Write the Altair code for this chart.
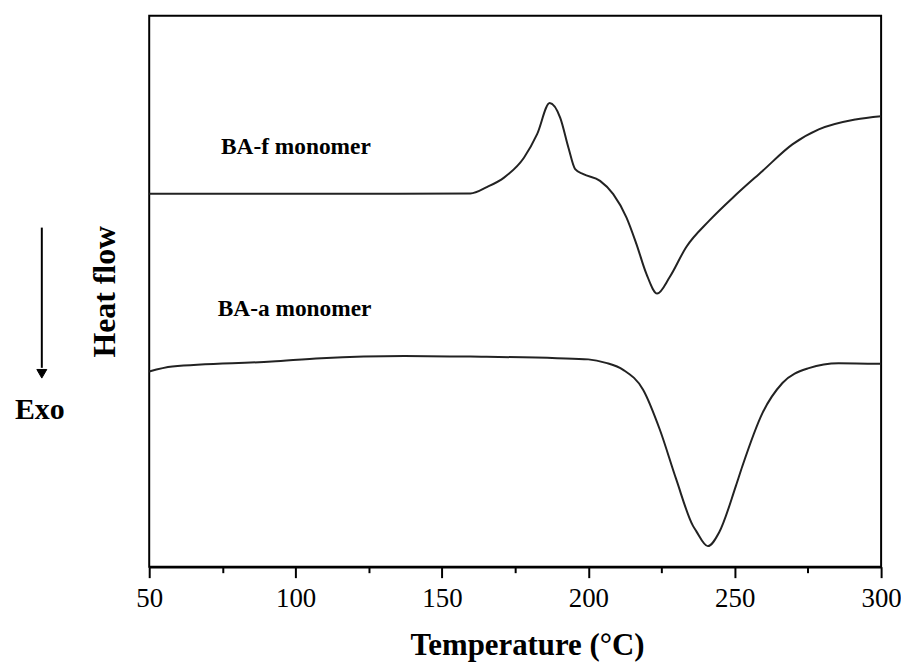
import altair as alt
import pandas as pd

# BA-f monomer DSC trace (temperature °C, heat flow a.u.)
baf_temp = [50.0, 101.0, 134.9, 159.7, 165.5, 171.2, 178.0, 182.5, 186.8, 190.4, 193.2,
            195.5, 198.3, 204.0, 208.5, 213.0, 216.4, 219.8, 223.5, 227.8, 233.4, 241.3,
            250.4, 259.5, 269.7, 278.7, 291.2, 300.0]
baf_flow = [375, 375, 375, 375.3, 382, 391.3, 411.3, 435, 466.3, 451.3, 421.3,
            399.7, 394.7, 388, 374.7, 351.3, 324.7, 294.7, 274.7, 291.3, 321.3, 348,
            374, 398, 424.7, 439.7, 449.7, 453]

# BA-a monomer DSC trace
baa_temp = [50.0, 57.9, 91.9, 108.8, 137.2, 159.7, 189.3, 200.0, 206.0, 211.9, 218.7, 224.4,
            230.0, 235.7, 236.8, 240.8, 244.7, 250.4, 252.6, 259.5, 266.3, 275.3, 285.5, 300.0]
baa_flow = [196.3, 201.3, 206.3, 209.7, 212, 211.3, 209.7, 208.5, 205, 198, 178, 138,
            88, 41.3, 36, 20.7, 34.7, 81.3, 101, 154.7, 184.7, 199.7, 204.7, 204]

label_text = ["BA-f monomer", "BA-a monomer"]
label_temp = [74.5, 73.4]
label_flow = [415, 252]

x_ticks = [50, 75, 100, 125, 150, 175, 200, 225, 250, 275, 300]

FONT = "Liberation Serif"

df = pd.concat([
    pd.DataFrame({"T": baf_temp, "H": baf_flow, "s": "BA-f"}),
    pd.DataFrame({"T": baa_temp, "H": baa_flow, "s": "BA-a"}),
])
labels = pd.DataFrame({"T": label_temp, "H": label_flow, "t": label_text})
one = pd.DataFrame({"a": [0]})

xscale = alt.Scale(domain=[50, 300], nice=False, zero=False)
yscale = alt.Scale(domain=[0, 554], nice=False, zero=False)

xaxis = alt.Axis(
    values=x_ticks,
    labelExpr="datum.value % 50 === 0 ? datum.label : ''",
    tickSize={"condition": {"test": "datum.value % 50 === 0", "value": 11}, "value": 6},
    tickWidth=2, tickColor="black", domainColor="black", domainWidth=2.5,
    labelFont=FONT, labelFontSize=27, labelColor="black", labelPadding=8,
    labelFlush=False, labelOverlap=False, grid=False,
    title="Temperature (°C)", titleFont=FONT, titleFontSize=31, titleFontWeight="bold",
    titleColor="black", titleX=380, titleY=88, titleBaseline="alphabetic", titleAlign="center",
)
yaxis = alt.Axis(
    labels=False, ticks=False, domain=False, grid=False,
    title="Heat flow", titleFont=FONT, titleFontSize=32, titleFontWeight="bold",
    titleColor="black", titleAngle=-90, titleX=-35, titleY=277,
    titleBaseline="alphabetic", titleAlign="center",
)

lines = alt.Chart(df).mark_line(interpolate="monotone", color="#222", strokeWidth=2).encode(
    x=alt.X("T:Q", scale=xscale, axis=xaxis),
    y=alt.Y("H:Q", scale=yscale, axis=yaxis),
    detail="s:N",
)

texts = alt.Chart(labels).mark_text(
    align="left", baseline="alphabetic", font=FONT, fontSize=23.5, fontWeight="bold", color="black"
).encode(x=alt.X("T:Q", scale=xscale), y=alt.Y("H:Q", scale=yscale), text="t:N")

arrow_line = alt.Chart(one).mark_rule(color="black", strokeWidth=2).encode(
    x=alt.value(-108), y=alt.value(213), y2=alt.value(354)
)
arrow_head = alt.Chart(one).mark_point(
    shape="triangle-down", filled=True, fill="black", stroke="black", strokeWidth=1,
    size=100, opacity=1
).encode(x=alt.value(-108), y=alt.value(360))

exo = alt.Chart(one).mark_text(
    text="Exo", align="center", baseline="alphabetic", font=FONT, fontSize=30,
    fontWeight="bold", color="black"
).encode(x=alt.value(-110), y=alt.value(405))

chart = alt.layer(lines, texts, arrow_line, arrow_head, exo).properties(
    width=736, height=554,
    padding={"left": 142, "top": 6, "right": 20, "bottom": 96},
    autosize=alt.AutoSizeParams(type="none"),
    background="white",
).configure_view(stroke="black", strokeWidth=2)

chart.save("out.html", embed_options={"renderer": "svg", "actions": False})
